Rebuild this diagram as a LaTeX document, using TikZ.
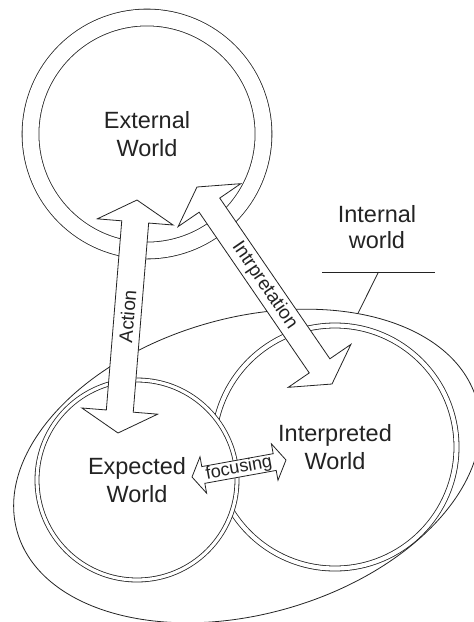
\documentclass[tikz,border=0pt]{standalone}
\usepackage{fontspec}
\setmainfont{Liberation Sans}
\usetikzlibrary{shapes, arrows.meta, positioning, calc}
\definecolor{inkgray}{RGB}{35, 35, 35}

\tikzset{
  world/.style={circle, draw=inkgray, line width=0.8pt, fill=white, double=white,
    align=center, inner sep=0pt, text=inkgray, font=\fontsize{23.5}{28}\selectfont},
  blockarrow/.style={draw=inkgray, line width=0.8pt, fill=white},
  arrowlabel/.style={sloped, inner sep=0pt, text=inkgray, font=\fontsize{19}{22}\selectfont},
}

% double block arrow: tips #1 and #2, head length #3, half head #4, half shaft #5
\newcommand{\dblblock}[5]{%
  \path[blockarrow] (#1)
    -- ($(#1)!#3!(#2)!#4!90:(#2)$) -- ($(#1)!#3!(#2)!#5!90:(#2)$)
    -- ($(#2)!#3!(#1)!#5!-90:(#1)$) -- ($(#2)!#3!(#1)!#4!-90:(#1)$)
    -- (#2)
    -- ($(#2)!#3!(#1)!#4!90:(#1)$) -- ($(#2)!#3!(#1)!#5!90:(#1)$)
    -- ($(#1)!#3!(#2)!#5!-90:(#2)$) -- ($(#1)!#3!(#2)!#4!-90:(#2)$)
    -- cycle;
}

\begin{document}
\begin{tikzpicture}[x=1pt, y=-1pt]
  \useasboundingbox (0,0) rectangle (474,622);

  % internal world
  \node[ellipse, draw=inkgray, line width=0.8pt, rotate=16, inner sep=0pt,
    minimum width=478pt, minimum height=296pt] (internal) at (247,466) {};

  % the three worlds
  \node[world, minimum size=233pt, double distance=16pt] (external) at (147,134) {External\\World};
  \node[world, minimum size=243pt, double distance=4.2pt] (interpreted) at (335,447) {Interpreted\\World};
  \node[world, minimum size=200pt, double distance=3.2pt] (expected) at (137,480) {Expected\\World};

  % arrow tips
  \coordinate (act-top) at (137,200);
  \coordinate (act-bot) at (118,433);
  \coordinate (int-top) at (197,187);
  \coordinate (int-bot) at (332,384);
  \coordinate (foc-l) at (192,477);
  \coordinate (foc-r) at (286,460);

  \dblblock{act-top}{act-bot}{22pt}{38pt}{13.5pt}
  \path (act-bot) -- node[arrowlabel] (actlbl) {Action} (act-top);

  \dblblock{int-top}{int-bot}{22pt}{38pt}{12.5pt}
  \path (int-top) -- node[arrowlabel] (intlbl) {Intrpretation} (int-bot);

  \dblblock{foc-l}{foc-r}{11.5pt}{18.5pt}{8.5pt}
  \path (foc-l) -- node[arrowlabel, font=\fontsize{18}{20}\selectfont] (foclbl) {focusing} (foc-r);

  % callout
  \node[align=center, text=inkgray, font=\fontsize{23.5}{26}\selectfont] (internallbl) at (377,227) {Internal\\world};
  \coordinate (bar-l) at (322,272);
  \coordinate (bar-r) at (435,272);
  \draw[draw=inkgray, line width=0.8pt] (bar-l) -- (bar-r);
  \draw[draw=inkgray, line width=0.8pt] ($(bar-l)!0.5!(bar-r)$) -- (internal.38);
\end{tikzpicture}
\end{document}
